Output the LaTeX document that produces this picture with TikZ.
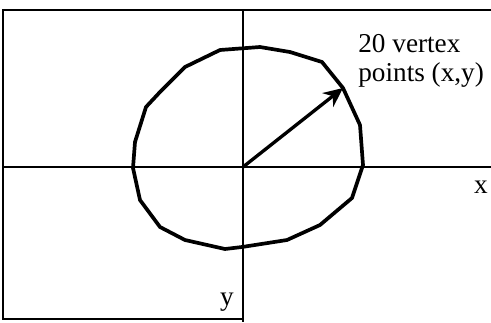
\documentclass[tikz,border=0pt]{standalone}
\usepackage{fontspec}
\setmainfont{Liberation Serif}
\usetikzlibrary{arrows.meta}
\tikzset{
  frame/.style={line width=1.7pt},
  axis/.style={line width=1.4pt},
  outline/.style={line width=2.1pt,line join=round},
  radarrow/.style={-{Stealth[length=11pt,width=10pt]},line width=1.9pt},
  lbl/.style={font=\fontsize{15.5}{17}\selectfont,inner sep=0pt},
}
\begin{document}
\begin{tikzpicture}[x=0.02cm,y=-0.02cm]
  \useasboundingbox (0,0) rectangle (491,322);
  % frame and axes
  \draw[frame] (491,10) -- (3,10) -- (3,319) -- (243,319);
  \coordinate (o) at (243,167);
  \coordinate (xend) at (491,167);
  \coordinate (xstart) at (3,167);
  \coordinate (ytop) at (243,10);
  \coordinate (ybot) at (243,322);
  \draw[axis] (xstart) -- (xend);
  \draw[axis] (ytop) -- (ybot);
  % the 20 vertex points
  \foreach \px/\py [count=\i] in {343/88,322/62,290/52,260/47,220/50,
      185/67,160/92,146/107,135/142,133/168,140/200,160/227,185/240,
      225/249,242/247,287/240,320/225,352/198,363/165,360/125}
    \coordinate (v\i) at (\px,\py);
  \draw[outline] (v1) \foreach \i in {2,...,20} {-- (v\i)} -- cycle;
  \draw[radarrow] (o) -- (v1);
  % labels
  \node[lbl,anchor=base west] (note1) at (358,52) {20 vertex};
  \node[lbl,anchor=base west] (note2) at (358,81) {points (x,y)};
  \node[lbl,anchor=base] (xlab) at (481,193) {x};
  \node[lbl,anchor=base] (ylab) at (227,305) {y};
\end{tikzpicture}
\end{document}
